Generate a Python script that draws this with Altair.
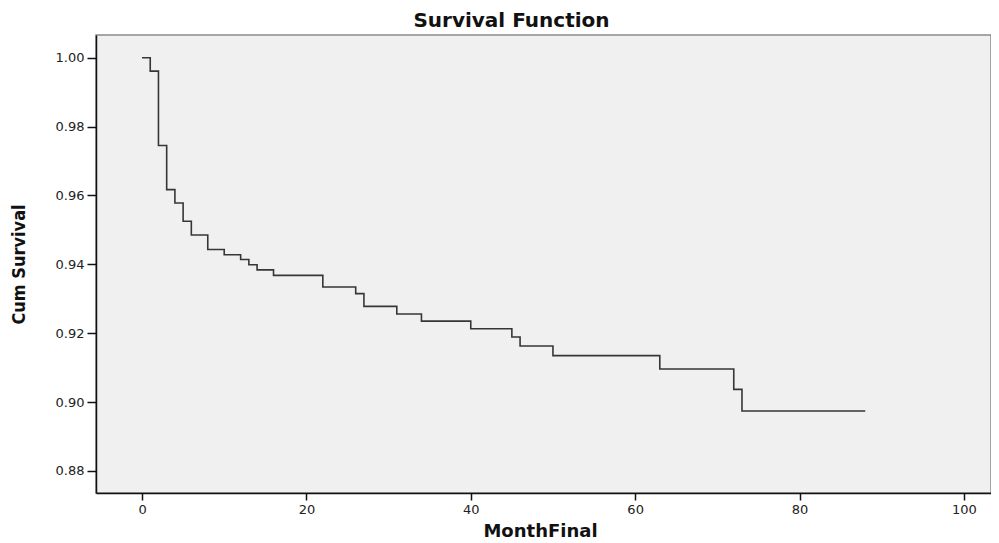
import altair as alt
import pandas as pd

# Kaplan-Meier step values
months = [0, 1, 2, 3, 4, 5, 6, 8, 10, 12, 13, 14, 16, 22, 26, 27, 31, 34, 40, 45, 46, 50, 63, 72, 73, 88]
cum_survival = [1.0, 0.9961, 0.9745, 0.9617, 0.9578, 0.9525, 0.9485, 0.9443, 0.9428, 0.9414,
                0.9399, 0.9384, 0.9368, 0.9334, 0.9315, 0.9278, 0.9256, 0.9235, 0.9213, 0.9189,
                0.9163, 0.9135, 0.9096, 0.9037, 0.8974, 0.8974]
x_ticks = [0, 20, 40, 60, 80, 100]
y_ticks = [0.88, 0.90, 0.92, 0.94, 0.96, 0.98, 1.00]

df = pd.DataFrame({"MonthFinal": months, "Cum Survival": cum_survival})

chart = alt.Chart(df).mark_line(
    interpolate="step-after", color="#363636", strokeWidth=1.6
).encode(
    x=alt.X(
        "MonthFinal:Q",
        scale=alt.Scale(domain=[-5.6, 103.3], nice=False, zero=False),
        axis=alt.Axis(
            values=x_ticks, title="MonthFinal", grid=False,
            tickSize=7, labelPadding=3, labelFontSize=13, labelFont="DejaVu Sans",
            labelColor="#222", tickColor="#111", domainColor="#111", domainWidth=1.5,
            tickWidth=1.5, labelFlush=False,
            titleFont="DejaVu Sans", titleFontSize=18, titleFontWeight="bold", titleColor="#111",
            titleX=444, titleY=43, titleBaseline="alphabetic", titleAlign="center",
        ),
    ),
    y=alt.Y(
        "Cum Survival:Q",
        scale=alt.Scale(domain=[0.8736, 1.0066], nice=False, zero=False),
        axis=alt.Axis(
            values=y_ticks, format=".2f", title="Cum Survival", grid=False,
            tickSize=9, labelPadding=3, labelFontSize=13, labelFont="DejaVu Sans",
            labelColor="#222", tickColor="#111", domainColor="#111", domainWidth=1.5,
            tickWidth=1.5, labelFlush=False,
            titleFont="Liberation Sans Narrow, DejaVu Sans Condensed, Roboto Condensed, Liberation Sans",
            titleFontSize=18, titleFontWeight="bold", titleColor="#111",
            titleX=-77, titleY=229, titleAngle=270, titleBaseline="middle", titleAlign="center",
        ),
    ),
).properties(
    width=895,
    height=458,
    autosize="none",
    background="white",
    padding={"left": 88, "top": 27, "right": 0, "bottom": 52},
    title=alt.TitleParams(
        "Survival Function", font="DejaVu Sans", fontSize=20, fontWeight="bold",
        color="#111", anchor="middle", dx=-32, offset=4,
    ),
).configure_view(
    fill="#f0f0f0", stroke="#8a8a8a", strokeWidth=1.5
)

chart.save("out.html", embed_options={"renderer": "svg", "actions": False})
